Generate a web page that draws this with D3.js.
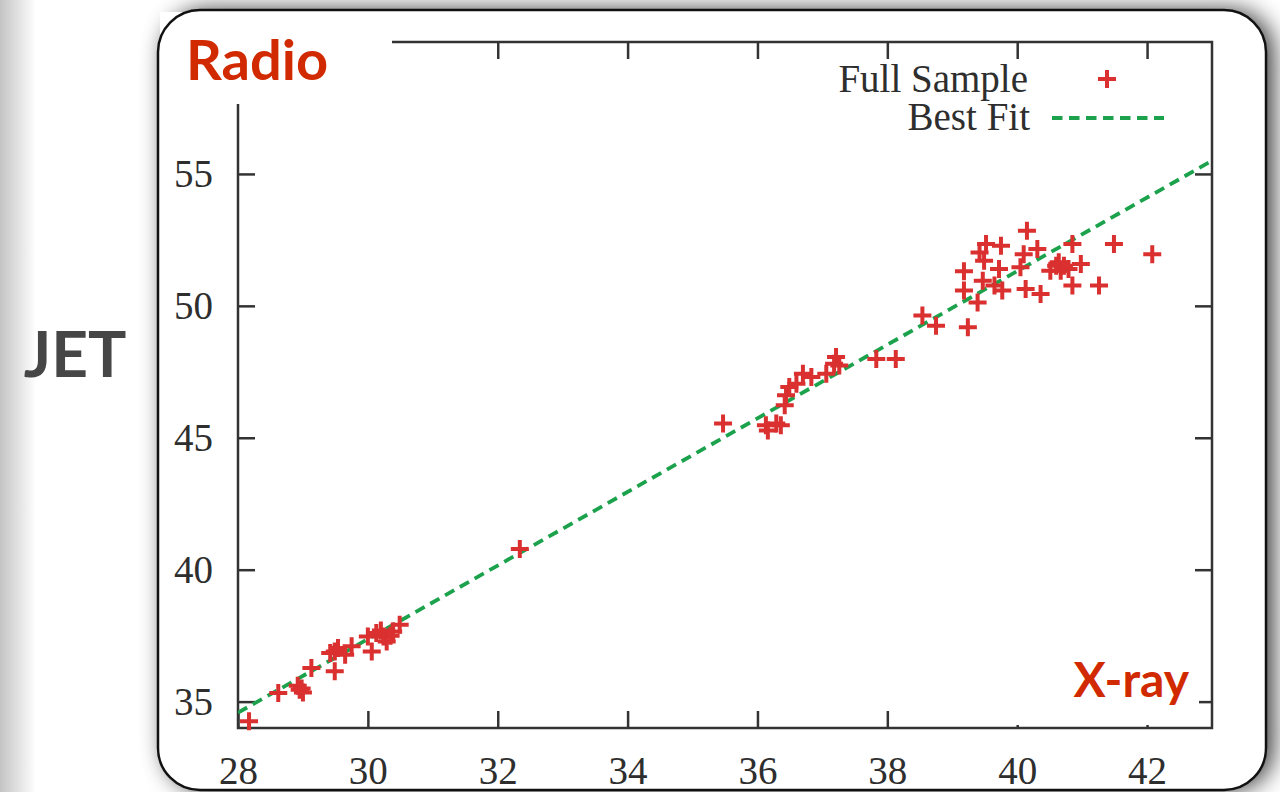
<!DOCTYPE html>
<html>
<head>
<meta charset="utf-8">
<script src="https://cdn.jsdelivr.net/npm/d3@7"></script>
<style>
  html,body{margin:0;padding:0;background:#fff;}
  svg{display:block;}
  .tick_lbl{font-family:"Liberation Serif","DejaVu Serif",serif;font-size:39px;fill:#2e2e2e;}
  .tag{font-family:Lato,"Open Sans",sans-serif;font-weight:700;}
</style>
</head>
<body>
<svg></svg>
<script>
// x-ray / radio 값
const x_ray = [
  28.17,28.62,28.92,29.00,28.98,28.95,29.13,29.49,29.42,29.49,29.54,29.65,29.75,
  30.06,30.00,30.13,30.24,30.29,30.39,30.49,30.20,30.35,
  32.34,35.47,36.13,36.29,36.36,36.16,36.42,36.44,36.49,36.60,36.70,36.83,37.06,
  37.18,37.21,37.26,37.83,38.13,
  38.54,38.75,39.24,39.39,39.18,39.18,39.47,39.49,39.42,39.52,39.75,39.72,39.77,
  39.65,40.05,40.10,40.15,40.31,40.13,40.36,40.51,40.64,40.67,40.79,40.72,40.60,
  40.85,40.98,40.85,41.26,41.49,42.08
];
const radio = [
  34.26,35.33,35.60,35.35,35.50,35.45,36.27,36.15,36.84,36.90,37.03,36.78,37.10,
  36.90,37.47,37.60,37.47,37.28,37.66,37.91,37.70,37.50,
  40.78,45.54,45.47,45.54,45.47,45.28,46.23,46.61,46.92,47.05,47.43,47.30,47.43,
  47.81,48.06,47.74,47.99,47.99,
  49.63,49.25,49.19,50.13,50.58,51.31,50.95,51.71,52.02,52.34,52.28,51.40,50.58,
  50.77,51.46,51.96,52.85,52.15,50.64,50.45,51.33,51.65,51.33,51.40,51.52,51.52,
  52.34,51.59,50.77,50.77,52.34,51.96
];
// best fit 직선 양 끝점
const fit_x = [28, 43];
const fit_y = [34.58, 55.50];
const x_ticks = [28,30,32,34,36,38,40,42];
const y_ticks = [35,40,45,50,55];
const legend_labels = ['Full Sample','Best Fit'];

const W = 1280, H = 792;
const plot = {l:238, r:1212, t:42, b:728};
const red = '#da3030', green = '#1ca24c', tag_red = '#d12a00';

const svg = d3.select('svg').attr('width',W).attr('height',H);
const defs = svg.append('defs');

// 카드 그림자
const flt = defs.append('filter').attr('id','shadow')
  .attr('x','-10%').attr('y','-10%').attr('width','120%').attr('height','120%');
flt.append('feGaussianBlur').attr('in','SourceAlpha').attr('stdDeviation',12).attr('result','b');
flt.append('feOffset').attr('in','b').attr('dx',7).attr('dy',0).attr('result','o');
flt.append('feComponentTransfer').attr('in','o').attr('result','s')
  .append('feFuncA').attr('type','linear').attr('slope',0.8);
const mg = flt.append('feMerge');
mg.append('feMergeNode').attr('in','s');
mg.append('feMergeNode').attr('in','SourceGraphic');

const lg = defs.append('linearGradient').attr('id','left_fade');
lg.append('stop').attr('offset','0').attr('stop-color','#c4c4c4');
lg.append('stop').attr('offset','1').attr('stop-color','#fff');
svg.append('rect').attr('x',0).attr('y',0).attr('width',36).attr('height',H).attr('fill','url(#left_fade)');

// 카드
const card = {x:158, y:10, w:1108, h:780, r:42};
svg.append('rect').attr('x',card.x).attr('y',card.y).attr('width',card.w).attr('height',card.h)
  .attr('rx',card.r).attr('fill','#fff').attr('filter','url(#shadow)');

// scales
const x_scale = d3.scaleLinear().domain([28,43]).range([plot.l,plot.r]);
const y_scale = d3.scaleLinear().domain([34,60]).range([plot.b,plot.t]);

function draw_axis(axis, tx, ty){
  const g = svg.append('g').attr('transform','translate('+tx+','+ty+')').call(axis);
  g.select('.domain').remove();
  g.selectAll('line').attr('stroke','#333').attr('stroke-width',2.5);
  g.selectAll('text').attr('class','tick_lbl').attr('font-size',null).attr('font-family',null).attr('fill',null);
  return g;
}
const tk = 17;
draw_axis(d3.axisBottom(x_scale).tickValues(x_ticks).tickSize(-tk).tickPadding(28), 0, plot.b);
draw_axis(d3.axisTop(x_scale).tickValues(x_ticks).tickSize(-tk).tickFormat(''), 0, plot.t);
draw_axis(d3.axisLeft(y_scale).tickValues(y_ticks).tickSize(-tk).tickPadding(25), plot.l, 0);
draw_axis(d3.axisRight(y_scale).tickValues(y_ticks).tickSize(-tk).tickFormat(''), plot.r, 0);

svg.append('rect').attr('x',plot.l).attr('y',plot.t)
  .attr('width',plot.r-plot.l).attr('height',plot.b-plot.t)
  .attr('fill','none').attr('stroke','#333').attr('stroke-width',2.5);

defs.append('clipPath').attr('id','clip').append('rect')
  .attr('x',plot.l).attr('y',plot.t).attr('width',plot.r-plot.l).attr('height',plot.b-plot.t);

// best fit
const fit_line = d3.line().x(d=>x_scale(d[0])).y(d=>y_scale(d[1]));
svg.append('path').attr('clip-path','url(#clip)')
  .attr('d',fit_line(d3.zip(fit_x,fit_y)))
  .attr('fill','none').attr('stroke',green).attr('stroke-width',3.8)
  .attr('stroke-dasharray','10.5,6.5');

// + 마커
function draw_plus(p_obj,x,y,s){
  p_obj.append('path').attr('d','M'+(x-s)+','+y+'H'+(x+s)+'M'+x+','+(y-s)+'V'+(y+s))
    .attr('stroke',red).attr('stroke-width',4).attr('fill','none');
}
const pts = svg.append('g').attr('class','points');
x_ray.forEach((v,i)=>draw_plus(pts,x_scale(v),y_scale(radio[i]),9));

// legend
svg.append('text').attr('class','tick_lbl').attr('x',1028).attr('y',92)
  .attr('text-anchor','end').text(legend_labels[0]);
svg.append('text').attr('class','tick_lbl').attr('x',1030).attr('y',130)
  .attr('text-anchor','end').text(legend_labels[1]);
draw_plus(svg,1107,79,9);
svg.append('line').attr('x1',1052).attr('x2',1164).attr('y1',118).attr('y2',118)
  .attr('stroke',green).attr('stroke-width',3.8).attr('stroke-dasharray','10.5,6.5');

// 라벨 박스
svg.append('rect').attr('x',card.x+2).attr('y',card.y+2).attr('width',392-card.x-2).attr('height',104-card.y-2).attr('fill','#fff');
svg.append('rect').attr('x',1005).attr('y',652).attr('width',194).attr('height',73).attr('fill','#fff');

svg.append('text').attr('class','tag').attr('x',186).attr('y',80)
  .attr('font-size',56).attr('font-weight',800).attr('fill',tag_red).text('Radio');
svg.append('text').attr('class','tag').attr('x',1189).attr('y',697)
  .attr('text-anchor','end').attr('font-size',48).attr('font-weight',800).attr('fill',tag_red).text('X-ray');
svg.append('text').attr('class','tag').attr('x',75).attr('y',377)
  .attr('text-anchor','middle').attr('font-size',64).attr('fill','#464646').text('JET');

// 카드 테두리
svg.append('rect').attr('x',card.x).attr('y',card.y).attr('width',card.w).attr('height',card.h)
  .attr('rx',card.r).attr('fill','none').attr('stroke','#111').attr('stroke-width',2.5);
</script>
</body>
</html>
